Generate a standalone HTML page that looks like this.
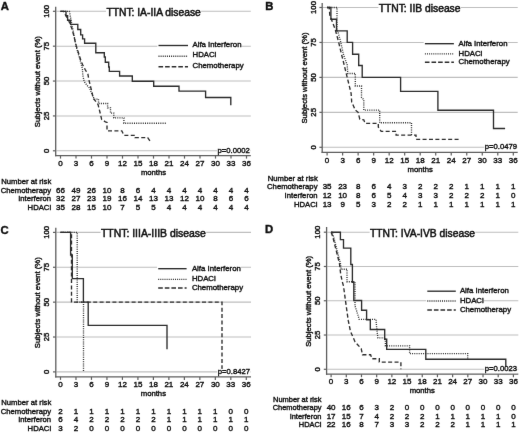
<!DOCTYPE html>
<html><head><meta charset="utf-8"><style>
html,body{margin:0;padding:0;background:#fff;}
svg{display:block;}
text{font-family:"Liberation Sans", sans-serif;fill:#111;stroke:#111;stroke-width:0.4px;}
svg{filter:grayscale(1);}
</style></head><body>
<svg width="520" height="433" viewBox="0 0 520 433">
<defs><filter id="bl" color-interpolation-filters="sRGB" x="0" y="0" width="100%" height="100%" filterUnits="userSpaceOnUse"><feConvolveMatrix order="3" kernelMatrix="0.00276 0.04704 0.00276 0.04704 0.80077 0.04704 0.00276 0.04704 0.00276" edgeMode="duplicate" preserveAlpha="true"/></filter></defs>
<g filter="url(#bl)">
<rect width="520" height="433" fill="#fff"/>
<line x1="56.4" y1="150.8" x2="250.8" y2="150.8" stroke="#bebebe" stroke-width="1.1"/>
<line x1="56.4" y1="115.93" x2="250.8" y2="115.93" stroke="#bebebe" stroke-width="1.1"/>
<line x1="56.4" y1="81.05" x2="250.8" y2="81.05" stroke="#bebebe" stroke-width="1.1"/>
<line x1="56.4" y1="46.18" x2="250.8" y2="46.18" stroke="#bebebe" stroke-width="1.1"/>
<line x1="56.4" y1="11.3" x2="250.8" y2="11.3" stroke="#bebebe" stroke-width="1.1"/>
<path d="M60.5,11.3 L66,11.3 L66,15.6 L67.6,15.6 L67.6,20.2 L70.6,20.2 L70.6,24.4 L77.8,24.4 L77.8,29.5 L80.7,29.5 L80.7,34.8 L82.6,34.8 L82.6,38.8 L84.6,38.8 L84.6,43.2 L95.8,43.2 L95.8,52.7 L104.3,52.7 L104.3,57 L105.3,57 L105.3,62.2 L108.7,62.2 L108.7,67 L109.3,67 L109.3,71.3 L119.6,71.3 L119.6,76 L132.3,76 L132.3,81.2 L153.7,81.2 L153.7,86.2 L179,86.2 L179,91.1 L205.6,91.1 L205.6,97.5 L230.8,97.5 L230.8,105.2" fill="none" stroke="#2c2c2c" stroke-width="1.35"/>
<path d="M60.5,11.3 L69.4,11.3 L71.8,23.9 L76,46 L80.4,61 L82.4,68.7 L82.8,75.2 L84.2,81.6 L87,85.3 L89.5,88 L92,94 L94.4,99.1 L98.5,99.1 L98.5,103.5 L107.6,103.5 L107.6,107.8 L110.5,107.8 L110.5,113.1 L113.8,113.1 L113.8,117.9 L123.9,117.9 L123.9,123.2 L166.5,123.2" fill="none" stroke="#2c2c2c" stroke-width="1.35" stroke-dasharray="1 1.2"/>
<path d="M60.5,11.3 L63.5,11.3 L66,16 L68.5,20 L72.4,30 L76.3,46 L79.2,55 L81,61 L82.8,65 L85.2,69.6 L87.9,74.2 L88.9,79.8 L90.2,85.3 L92.1,92.7 L93,98.2 L96.2,101.9 L98.1,104.7 L100.4,114 L101.7,119.6 L105.4,121.8 L107,122.5 L107,130.8 L121.8,130.8 L123.9,135.3 L135,135.3 L135,137.6 L147.7,137.6 L149.9,140.8" fill="none" stroke="#2c2c2c" stroke-width="1.35" stroke-dasharray="4.0 2.4"/>
<line x1="55.7" y1="6.8" x2="55.7" y2="156.2" stroke="#5e5e5e" stroke-width="1.3"/>
<line x1="55.1" y1="155.6" x2="250.8" y2="155.6" stroke="#5e5e5e" stroke-width="1.3"/>
<line x1="52.9" y1="150.8" x2="55.7" y2="150.8" stroke="#5e5e5e" stroke-width="1.2"/>
<text x="49.4" y="150.8" transform="rotate(-90 49.4 150.8)" text-anchor="middle" font-size="7.7">0</text>
<line x1="52.9" y1="115.93" x2="55.7" y2="115.93" stroke="#5e5e5e" stroke-width="1.2"/>
<text x="49.4" y="115.93" transform="rotate(-90 49.4 115.93)" text-anchor="middle" font-size="7.7">25</text>
<line x1="52.9" y1="81.05" x2="55.7" y2="81.05" stroke="#5e5e5e" stroke-width="1.2"/>
<text x="49.4" y="81.05" transform="rotate(-90 49.4 81.05)" text-anchor="middle" font-size="7.7">50</text>
<line x1="52.9" y1="46.18" x2="55.7" y2="46.18" stroke="#5e5e5e" stroke-width="1.2"/>
<text x="49.4" y="46.18" transform="rotate(-90 49.4 46.18)" text-anchor="middle" font-size="7.7">75</text>
<line x1="52.9" y1="11.3" x2="55.7" y2="11.3" stroke="#5e5e5e" stroke-width="1.2"/>
<text x="49.4" y="11.3" transform="rotate(-90 49.4 11.3)" text-anchor="middle" font-size="7.7">100</text>
<line x1="60.5" y1="155.6" x2="60.5" y2="158.6" stroke="#5e5e5e" stroke-width="1.2"/>
<text x="60.5" y="166.2" text-anchor="middle" font-size="8.0">0</text>
<line x1="76" y1="155.6" x2="76" y2="158.6" stroke="#5e5e5e" stroke-width="1.2"/>
<text x="76" y="166.2" text-anchor="middle" font-size="8.0">3</text>
<line x1="91.5" y1="155.6" x2="91.5" y2="158.6" stroke="#5e5e5e" stroke-width="1.2"/>
<text x="91.5" y="166.2" text-anchor="middle" font-size="8.0">6</text>
<line x1="107" y1="155.6" x2="107" y2="158.6" stroke="#5e5e5e" stroke-width="1.2"/>
<text x="107" y="166.2" text-anchor="middle" font-size="8.0">9</text>
<line x1="122.5" y1="155.6" x2="122.5" y2="158.6" stroke="#5e5e5e" stroke-width="1.2"/>
<text x="122.5" y="166.2" text-anchor="middle" font-size="8.0">12</text>
<line x1="138" y1="155.6" x2="138" y2="158.6" stroke="#5e5e5e" stroke-width="1.2"/>
<text x="138" y="166.2" text-anchor="middle" font-size="8.0">15</text>
<line x1="153.5" y1="155.6" x2="153.5" y2="158.6" stroke="#5e5e5e" stroke-width="1.2"/>
<text x="153.5" y="166.2" text-anchor="middle" font-size="8.0">18</text>
<line x1="169" y1="155.6" x2="169" y2="158.6" stroke="#5e5e5e" stroke-width="1.2"/>
<text x="169" y="166.2" text-anchor="middle" font-size="8.0">21</text>
<line x1="184.5" y1="155.6" x2="184.5" y2="158.6" stroke="#5e5e5e" stroke-width="1.2"/>
<text x="184.5" y="166.2" text-anchor="middle" font-size="8.0">24</text>
<line x1="200" y1="155.6" x2="200" y2="158.6" stroke="#5e5e5e" stroke-width="1.2"/>
<text x="200" y="166.2" text-anchor="middle" font-size="8.0">27</text>
<line x1="215.5" y1="155.6" x2="215.5" y2="158.6" stroke="#5e5e5e" stroke-width="1.2"/>
<text x="215.5" y="166.2" text-anchor="middle" font-size="8.0">30</text>
<line x1="231" y1="155.6" x2="231" y2="158.6" stroke="#5e5e5e" stroke-width="1.2"/>
<text x="231" y="166.2" text-anchor="middle" font-size="8.0">33</text>
<line x1="246.5" y1="155.6" x2="246.5" y2="158.6" stroke="#5e5e5e" stroke-width="1.2"/>
<text x="246.5" y="166.2" text-anchor="middle" font-size="8.0">36</text>
<text x="40.1" y="81.65" transform="rotate(-90 40.1 81.65)" text-anchor="middle" font-size="7.7">Subjects without event (%)</text>
<text x="153.5" y="175.2" text-anchor="middle" font-size="7.7">months</text>
<rect x="106.08" y="7.4" width="95.05" height="10" fill="#fff"/>
<text x="153.6" y="15.9" text-anchor="middle" font-size="10.3" style="stroke-width:0.5px">TTNT: IA-IIA disease</text>
<rect x="157.3" y="40.5" width="84.19" height="8.4" fill="#fff"/>
<line x1="158.5" y1="45.5" x2="188" y2="45.5" stroke="#2c2c2c" stroke-width="1.35"/>
<text x="192.5" y="46.7" font-size="7.8">Alfa Interferon</text>
<rect x="157.3" y="51.1" width="59.03" height="8.4" fill="#fff"/>
<line x1="158.5" y1="56.2" x2="188" y2="56.2" stroke="#2c2c2c" stroke-width="1.35" stroke-dasharray="1 1.1"/>
<text x="192.5" y="57.3" font-size="7.8">HDACi</text>
<rect x="157.3" y="62" width="86.36" height="8.4" fill="#fff"/>
<line x1="158.5" y1="66.7" x2="188" y2="66.7" stroke="#2c2c2c" stroke-width="1.35" stroke-dasharray="4.6 2.0"/>
<text x="192.5" y="68.2" font-size="7.8">Chemotherapy</text>
<rect x="216.97" y="147.8" width="33.33" height="6.6" fill="#fff"/>
<text x="249.8" y="152.6" text-anchor="end" font-size="7.7">p=0.0002</text>
<text x="0.7" y="9.6" font-size="11.3" font-weight="bold">A</text>
<text x="1.25" y="184" font-size="7.7">Number at risk</text>
<text x="51.1" y="192.6" text-anchor="end" font-size="7.7">Chemotherapy</text>
<text x="60.5" y="192.6" text-anchor="middle" font-size="8.0">66</text>
<text x="76" y="192.6" text-anchor="middle" font-size="8.0">49</text>
<text x="91.5" y="192.6" text-anchor="middle" font-size="8.0">26</text>
<text x="107" y="192.6" text-anchor="middle" font-size="8.0">10</text>
<text x="122.5" y="192.6" text-anchor="middle" font-size="8.0">8</text>
<text x="138" y="192.6" text-anchor="middle" font-size="8.0">6</text>
<text x="153.5" y="192.6" text-anchor="middle" font-size="8.0">4</text>
<text x="169" y="192.6" text-anchor="middle" font-size="8.0">4</text>
<text x="184.5" y="192.6" text-anchor="middle" font-size="8.0">4</text>
<text x="200" y="192.6" text-anchor="middle" font-size="8.0">4</text>
<text x="215.5" y="192.6" text-anchor="middle" font-size="8.0">4</text>
<text x="231" y="192.6" text-anchor="middle" font-size="8.0">4</text>
<text x="246.5" y="192.6" text-anchor="middle" font-size="8.0">4</text>
<text x="51.1" y="201.3" text-anchor="end" font-size="7.7">Interferon</text>
<text x="60.5" y="201.3" text-anchor="middle" font-size="8.0">32</text>
<text x="76" y="201.3" text-anchor="middle" font-size="8.0">27</text>
<text x="91.5" y="201.3" text-anchor="middle" font-size="8.0">23</text>
<text x="107" y="201.3" text-anchor="middle" font-size="8.0">19</text>
<text x="122.5" y="201.3" text-anchor="middle" font-size="8.0">16</text>
<text x="138" y="201.3" text-anchor="middle" font-size="8.0">14</text>
<text x="153.5" y="201.3" text-anchor="middle" font-size="8.0">13</text>
<text x="169" y="201.3" text-anchor="middle" font-size="8.0">13</text>
<text x="184.5" y="201.3" text-anchor="middle" font-size="8.0">12</text>
<text x="200" y="201.3" text-anchor="middle" font-size="8.0">10</text>
<text x="215.5" y="201.3" text-anchor="middle" font-size="8.0">8</text>
<text x="231" y="201.3" text-anchor="middle" font-size="8.0">6</text>
<text x="246.5" y="201.3" text-anchor="middle" font-size="8.0">6</text>
<text x="51.1" y="210.1" text-anchor="end" font-size="7.7">HDACi</text>
<text x="60.5" y="210.1" text-anchor="middle" font-size="8.0">35</text>
<text x="76" y="210.1" text-anchor="middle" font-size="8.0">28</text>
<text x="91.5" y="210.1" text-anchor="middle" font-size="8.0">15</text>
<text x="107" y="210.1" text-anchor="middle" font-size="8.0">10</text>
<text x="122.5" y="210.1" text-anchor="middle" font-size="8.0">7</text>
<text x="138" y="210.1" text-anchor="middle" font-size="8.0">5</text>
<text x="153.5" y="210.1" text-anchor="middle" font-size="8.0">5</text>
<text x="169" y="210.1" text-anchor="middle" font-size="8.0">4</text>
<text x="184.5" y="210.1" text-anchor="middle" font-size="8.0">4</text>
<text x="200" y="210.1" text-anchor="middle" font-size="8.0">4</text>
<text x="215.5" y="210.1" text-anchor="middle" font-size="8.0">4</text>
<text x="231" y="210.1" text-anchor="middle" font-size="8.0">4</text>
<text x="246.5" y="210.1" text-anchor="middle" font-size="8.0">4</text>
<line x1="322.9" y1="147.3" x2="517.7" y2="147.3" stroke="#bebebe" stroke-width="1.1"/>
<line x1="322.9" y1="112.35" x2="517.7" y2="112.35" stroke="#bebebe" stroke-width="1.1"/>
<line x1="322.9" y1="77.4" x2="517.7" y2="77.4" stroke="#bebebe" stroke-width="1.1"/>
<line x1="322.9" y1="42.45" x2="517.7" y2="42.45" stroke="#bebebe" stroke-width="1.1"/>
<line x1="322.9" y1="7.5" x2="517.7" y2="7.5" stroke="#bebebe" stroke-width="1.1"/>
<path d="M327.1,7.5 L330.9,7.5 L330.9,19.2 L336.5,19.2 L336.5,30.8 L347.2,30.8 L347.2,42.4 L352.6,42.4 L352.6,54.2 L358.7,54.2 L358.7,65.5 L362.2,65.5 L362.2,77.4 L400.6,77.4 L400.6,91.3 L437.9,91.3 L437.9,110.2 L493.5,110.2 L493.5,128.5 L505.1,128.5" fill="none" stroke="#2c2c2c" stroke-width="1.35"/>
<path d="M327.1,7.5 L337,7.5 L337,30 L338.2,33 L340.2,40 L343.6,55 L346.1,62 L347.2,65 L347.8,73.5 L355.3,73.5 L355.3,86 L361.5,86 L361.5,97.4 L363.8,99.6 L363.8,110.1 L379.7,110.1 L379.7,122.7 L411.5,122.7 L411.5,135" fill="none" stroke="#2c2c2c" stroke-width="1.35" stroke-dasharray="1 1.2"/>
<path d="M327.1,7.5 L329.2,7.5 L329.8,15 L335.2,29.3 L338.7,42.3 L341.3,53.5 L343.9,63.9 L347,76.6 L351.1,93.3 L351.7,101.9 L355.2,110 L358.1,112.3 L359.8,119.2 L363.8,119.8 L365,123.3 L378.3,123.3 L378.3,127 L381.2,131.4 L396.1,131.4 L396.1,135.1 L416,135.1 L416,139.3 L459,139.3 L459,141" fill="none" stroke="#2c2c2c" stroke-width="1.35" stroke-dasharray="4.0 2.4"/>
<line x1="322.2" y1="3.1" x2="322.2" y2="153" stroke="#5e5e5e" stroke-width="1.3"/>
<line x1="321.6" y1="152.4" x2="517.7" y2="152.4" stroke="#5e5e5e" stroke-width="1.3"/>
<line x1="319.4" y1="147.3" x2="322.2" y2="147.3" stroke="#5e5e5e" stroke-width="1.2"/>
<text x="315.8" y="147.3" transform="rotate(-90 315.8 147.3)" text-anchor="middle" font-size="7.7">0</text>
<line x1="319.4" y1="112.35" x2="322.2" y2="112.35" stroke="#5e5e5e" stroke-width="1.2"/>
<text x="315.8" y="112.35" transform="rotate(-90 315.8 112.35)" text-anchor="middle" font-size="7.7">25</text>
<line x1="319.4" y1="77.4" x2="322.2" y2="77.4" stroke="#5e5e5e" stroke-width="1.2"/>
<text x="315.8" y="77.4" transform="rotate(-90 315.8 77.4)" text-anchor="middle" font-size="7.7">50</text>
<line x1="319.4" y1="42.45" x2="322.2" y2="42.45" stroke="#5e5e5e" stroke-width="1.2"/>
<text x="315.8" y="42.45" transform="rotate(-90 315.8 42.45)" text-anchor="middle" font-size="7.7">75</text>
<line x1="319.4" y1="7.5" x2="322.2" y2="7.5" stroke="#5e5e5e" stroke-width="1.2"/>
<text x="315.8" y="7.5" transform="rotate(-90 315.8 7.5)" text-anchor="middle" font-size="7.7">100</text>
<line x1="327.1" y1="152.4" x2="327.1" y2="155.4" stroke="#5e5e5e" stroke-width="1.2"/>
<text x="327.1" y="163.2" text-anchor="middle" font-size="8.0">0</text>
<line x1="342.62" y1="152.4" x2="342.62" y2="155.4" stroke="#5e5e5e" stroke-width="1.2"/>
<text x="342.62" y="163.2" text-anchor="middle" font-size="8.0">3</text>
<line x1="358.13" y1="152.4" x2="358.13" y2="155.4" stroke="#5e5e5e" stroke-width="1.2"/>
<text x="358.13" y="163.2" text-anchor="middle" font-size="8.0">6</text>
<line x1="373.65" y1="152.4" x2="373.65" y2="155.4" stroke="#5e5e5e" stroke-width="1.2"/>
<text x="373.65" y="163.2" text-anchor="middle" font-size="8.0">9</text>
<line x1="389.17" y1="152.4" x2="389.17" y2="155.4" stroke="#5e5e5e" stroke-width="1.2"/>
<text x="389.17" y="163.2" text-anchor="middle" font-size="8.0">12</text>
<line x1="404.68" y1="152.4" x2="404.68" y2="155.4" stroke="#5e5e5e" stroke-width="1.2"/>
<text x="404.68" y="163.2" text-anchor="middle" font-size="8.0">15</text>
<line x1="420.2" y1="152.4" x2="420.2" y2="155.4" stroke="#5e5e5e" stroke-width="1.2"/>
<text x="420.2" y="163.2" text-anchor="middle" font-size="8.0">18</text>
<line x1="435.72" y1="152.4" x2="435.72" y2="155.4" stroke="#5e5e5e" stroke-width="1.2"/>
<text x="435.72" y="163.2" text-anchor="middle" font-size="8.0">21</text>
<line x1="451.23" y1="152.4" x2="451.23" y2="155.4" stroke="#5e5e5e" stroke-width="1.2"/>
<text x="451.23" y="163.2" text-anchor="middle" font-size="8.0">24</text>
<line x1="466.75" y1="152.4" x2="466.75" y2="155.4" stroke="#5e5e5e" stroke-width="1.2"/>
<text x="466.75" y="163.2" text-anchor="middle" font-size="8.0">27</text>
<line x1="482.27" y1="152.4" x2="482.27" y2="155.4" stroke="#5e5e5e" stroke-width="1.2"/>
<text x="482.27" y="163.2" text-anchor="middle" font-size="8.0">30</text>
<line x1="497.78" y1="152.4" x2="497.78" y2="155.4" stroke="#5e5e5e" stroke-width="1.2"/>
<text x="497.78" y="163.2" text-anchor="middle" font-size="8.0">33</text>
<line x1="513.3" y1="152.4" x2="513.3" y2="155.4" stroke="#5e5e5e" stroke-width="1.2"/>
<text x="513.3" y="163.2" text-anchor="middle" font-size="8.0">36</text>
<text x="306.7" y="78" transform="rotate(-90 306.7 78)" text-anchor="middle" font-size="7.7">Subjects without event (%)</text>
<text x="420.2" y="171.5" text-anchor="middle" font-size="7.7">months</text>
<rect x="378.37" y="3.8" width="82.45" height="10" fill="#fff"/>
<text x="419.6" y="12.3" text-anchor="middle" font-size="10.3" style="stroke-width:0.5px">TTNT: IIB disease</text>
<rect x="423.7" y="39.8" width="83.79" height="8.4" fill="#fff"/>
<line x1="424.9" y1="43.7" x2="453.9" y2="43.7" stroke="#2c2c2c" stroke-width="1.35"/>
<text x="458.5" y="46" font-size="7.8">Alfa Interferon</text>
<rect x="423.7" y="49.4" width="58.63" height="8.4" fill="#fff"/>
<line x1="424.9" y1="53.8" x2="453.9" y2="53.8" stroke="#2c2c2c" stroke-width="1.35" stroke-dasharray="1 1.1"/>
<text x="458.5" y="55.6" font-size="7.8">HDACi</text>
<rect x="423.7" y="58.1" width="85.96" height="8.4" fill="#fff"/>
<line x1="424.9" y1="62.2" x2="453.9" y2="62.2" stroke="#2c2c2c" stroke-width="1.35" stroke-dasharray="4.6 2.0"/>
<text x="458.5" y="64.3" font-size="7.8">Chemotherapy</text>
<rect x="484.27" y="144.6" width="33.33" height="6.6" fill="#fff"/>
<text x="517.1" y="149.4" text-anchor="end" font-size="7.7">p=0.0479</text>
<text x="265.2" y="9.6" font-size="11.3" font-weight="bold">B</text>
<text x="267.8" y="180.6" font-size="7.7">Number at risk</text>
<text x="317.5" y="189.3" text-anchor="end" font-size="7.7">Chemotherapy</text>
<text x="327.1" y="189.3" text-anchor="middle" font-size="8.0">35</text>
<text x="342.62" y="189.3" text-anchor="middle" font-size="8.0">23</text>
<text x="358.13" y="189.3" text-anchor="middle" font-size="8.0">8</text>
<text x="373.65" y="189.3" text-anchor="middle" font-size="8.0">6</text>
<text x="389.17" y="189.3" text-anchor="middle" font-size="8.0">4</text>
<text x="404.68" y="189.3" text-anchor="middle" font-size="8.0">3</text>
<text x="420.2" y="189.3" text-anchor="middle" font-size="8.0">2</text>
<text x="435.72" y="189.3" text-anchor="middle" font-size="8.0">2</text>
<text x="451.23" y="189.3" text-anchor="middle" font-size="8.0">2</text>
<text x="466.75" y="189.3" text-anchor="middle" font-size="8.0">1</text>
<text x="482.27" y="189.3" text-anchor="middle" font-size="8.0">1</text>
<text x="497.78" y="189.3" text-anchor="middle" font-size="8.0">1</text>
<text x="513.3" y="189.3" text-anchor="middle" font-size="8.0">1</text>
<text x="317.5" y="198" text-anchor="end" font-size="7.7">Interferon</text>
<text x="327.1" y="198" text-anchor="middle" font-size="8.0">12</text>
<text x="342.62" y="198" text-anchor="middle" font-size="8.0">10</text>
<text x="358.13" y="198" text-anchor="middle" font-size="8.0">8</text>
<text x="373.65" y="198" text-anchor="middle" font-size="8.0">6</text>
<text x="389.17" y="198" text-anchor="middle" font-size="8.0">5</text>
<text x="404.68" y="198" text-anchor="middle" font-size="8.0">4</text>
<text x="420.2" y="198" text-anchor="middle" font-size="8.0">3</text>
<text x="435.72" y="198" text-anchor="middle" font-size="8.0">3</text>
<text x="451.23" y="198" text-anchor="middle" font-size="8.0">2</text>
<text x="466.75" y="198" text-anchor="middle" font-size="8.0">2</text>
<text x="482.27" y="198" text-anchor="middle" font-size="8.0">2</text>
<text x="497.78" y="198" text-anchor="middle" font-size="8.0">1</text>
<text x="513.3" y="198" text-anchor="middle" font-size="8.0">0</text>
<text x="317.5" y="206.7" text-anchor="end" font-size="7.7">HDACi</text>
<text x="327.1" y="206.7" text-anchor="middle" font-size="8.0">13</text>
<text x="342.62" y="206.7" text-anchor="middle" font-size="8.0">9</text>
<text x="358.13" y="206.7" text-anchor="middle" font-size="8.0">5</text>
<text x="373.65" y="206.7" text-anchor="middle" font-size="8.0">3</text>
<text x="389.17" y="206.7" text-anchor="middle" font-size="8.0">2</text>
<text x="404.68" y="206.7" text-anchor="middle" font-size="8.0">2</text>
<text x="420.2" y="206.7" text-anchor="middle" font-size="8.0">1</text>
<text x="435.72" y="206.7" text-anchor="middle" font-size="8.0">1</text>
<text x="451.23" y="206.7" text-anchor="middle" font-size="8.0">1</text>
<text x="466.75" y="206.7" text-anchor="middle" font-size="8.0">1</text>
<text x="482.27" y="206.7" text-anchor="middle" font-size="8.0">1</text>
<text x="497.78" y="206.7" text-anchor="middle" font-size="8.0">1</text>
<text x="513.3" y="206.7" text-anchor="middle" font-size="8.0">1</text>
<line x1="56.5" y1="371.9" x2="251" y2="371.9" stroke="#bebebe" stroke-width="1.1"/>
<line x1="56.5" y1="337.02" x2="251" y2="337.02" stroke="#bebebe" stroke-width="1.1"/>
<line x1="56.5" y1="302.15" x2="251" y2="302.15" stroke="#bebebe" stroke-width="1.1"/>
<line x1="56.5" y1="267.27" x2="251" y2="267.27" stroke="#bebebe" stroke-width="1.1"/>
<line x1="56.5" y1="232.4" x2="251" y2="232.4" stroke="#bebebe" stroke-width="1.1"/>
<path d="M60.5,232.4 L70.6,232.4 L70.6,255 L72.3,255 L72.3,278.6 L83.4,278.6 L83.4,302.1 L88.2,302.1 L88.2,325.4 L167,325.4 L167,349.3" fill="none" stroke="#2c2c2c" stroke-width="1.35"/>
<path d="M60.5,232.4 L77.2,232.4 L77.2,302.1 L83.5,302.1 L83.5,371.9" fill="none" stroke="#2c2c2c" stroke-width="1.35" stroke-dasharray="1 1.2"/>
<path d="M60.5,232.4 L71.5,232.4 L71.5,302.1 L222,302.1 L222,371.9" fill="none" stroke="#2c2c2c" stroke-width="1.35" stroke-dasharray="4.0 2.4"/>
<line x1="55.8" y1="227.8" x2="55.8" y2="377.5" stroke="#5e5e5e" stroke-width="1.3"/>
<line x1="55.2" y1="376.9" x2="251" y2="376.9" stroke="#5e5e5e" stroke-width="1.3"/>
<line x1="53" y1="371.9" x2="55.8" y2="371.9" stroke="#5e5e5e" stroke-width="1.2"/>
<text x="49.4" y="371.9" transform="rotate(-90 49.4 371.9)" text-anchor="middle" font-size="7.7">0</text>
<line x1="53" y1="337.02" x2="55.8" y2="337.02" stroke="#5e5e5e" stroke-width="1.2"/>
<text x="49.4" y="337.02" transform="rotate(-90 49.4 337.02)" text-anchor="middle" font-size="7.7">25</text>
<line x1="53" y1="302.15" x2="55.8" y2="302.15" stroke="#5e5e5e" stroke-width="1.2"/>
<text x="49.4" y="302.15" transform="rotate(-90 49.4 302.15)" text-anchor="middle" font-size="7.7">50</text>
<line x1="53" y1="267.27" x2="55.8" y2="267.27" stroke="#5e5e5e" stroke-width="1.2"/>
<text x="49.4" y="267.27" transform="rotate(-90 49.4 267.27)" text-anchor="middle" font-size="7.7">75</text>
<line x1="53" y1="232.4" x2="55.8" y2="232.4" stroke="#5e5e5e" stroke-width="1.2"/>
<text x="49.4" y="232.4" transform="rotate(-90 49.4 232.4)" text-anchor="middle" font-size="7.7">100</text>
<line x1="60.5" y1="376.9" x2="60.5" y2="379.9" stroke="#5e5e5e" stroke-width="1.2"/>
<text x="60.5" y="387.2" text-anchor="middle" font-size="8.0">0</text>
<line x1="75.98" y1="376.9" x2="75.98" y2="379.9" stroke="#5e5e5e" stroke-width="1.2"/>
<text x="75.98" y="387.2" text-anchor="middle" font-size="8.0">3</text>
<line x1="91.47" y1="376.9" x2="91.47" y2="379.9" stroke="#5e5e5e" stroke-width="1.2"/>
<text x="91.47" y="387.2" text-anchor="middle" font-size="8.0">6</text>
<line x1="106.95" y1="376.9" x2="106.95" y2="379.9" stroke="#5e5e5e" stroke-width="1.2"/>
<text x="106.95" y="387.2" text-anchor="middle" font-size="8.0">9</text>
<line x1="122.43" y1="376.9" x2="122.43" y2="379.9" stroke="#5e5e5e" stroke-width="1.2"/>
<text x="122.43" y="387.2" text-anchor="middle" font-size="8.0">12</text>
<line x1="137.92" y1="376.9" x2="137.92" y2="379.9" stroke="#5e5e5e" stroke-width="1.2"/>
<text x="137.92" y="387.2" text-anchor="middle" font-size="8.0">15</text>
<line x1="153.4" y1="376.9" x2="153.4" y2="379.9" stroke="#5e5e5e" stroke-width="1.2"/>
<text x="153.4" y="387.2" text-anchor="middle" font-size="8.0">18</text>
<line x1="168.88" y1="376.9" x2="168.88" y2="379.9" stroke="#5e5e5e" stroke-width="1.2"/>
<text x="168.88" y="387.2" text-anchor="middle" font-size="8.0">21</text>
<line x1="184.37" y1="376.9" x2="184.37" y2="379.9" stroke="#5e5e5e" stroke-width="1.2"/>
<text x="184.37" y="387.2" text-anchor="middle" font-size="8.0">24</text>
<line x1="199.85" y1="376.9" x2="199.85" y2="379.9" stroke="#5e5e5e" stroke-width="1.2"/>
<text x="199.85" y="387.2" text-anchor="middle" font-size="8.0">27</text>
<line x1="215.33" y1="376.9" x2="215.33" y2="379.9" stroke="#5e5e5e" stroke-width="1.2"/>
<text x="215.33" y="387.2" text-anchor="middle" font-size="8.0">30</text>
<line x1="230.82" y1="376.9" x2="230.82" y2="379.9" stroke="#5e5e5e" stroke-width="1.2"/>
<text x="230.82" y="387.2" text-anchor="middle" font-size="8.0">33</text>
<line x1="246.3" y1="376.9" x2="246.3" y2="379.9" stroke="#5e5e5e" stroke-width="1.2"/>
<text x="246.3" y="387.2" text-anchor="middle" font-size="8.0">36</text>
<text x="40.4" y="302.75" transform="rotate(-90 40.4 302.75)" text-anchor="middle" font-size="7.7">Subjects without event (%)</text>
<text x="153.4" y="396" text-anchor="middle" font-size="7.7">months</text>
<rect x="100.55" y="228.9" width="105.71" height="10" fill="#fff"/>
<text x="153.4" y="237.4" text-anchor="middle" font-size="10.45" style="stroke-width:0.5px">TTNT: IIIA-IIIB disease</text>
<rect x="157" y="264.4" width="83.89" height="8.4" fill="#fff"/>
<line x1="158.2" y1="268.7" x2="186.6" y2="268.7" stroke="#2c2c2c" stroke-width="1.35"/>
<text x="191.9" y="270.6" font-size="7.8">Alfa Interferon</text>
<rect x="157" y="274.5" width="58.73" height="8.4" fill="#fff"/>
<line x1="158.2" y1="279.3" x2="186.6" y2="279.3" stroke="#2c2c2c" stroke-width="1.35" stroke-dasharray="1 1.1"/>
<text x="191.9" y="280.7" font-size="7.8">HDACi</text>
<rect x="157" y="284.1" width="86.06" height="8.4" fill="#fff"/>
<line x1="158.2" y1="288" x2="186.6" y2="288" stroke="#2c2c2c" stroke-width="1.35" stroke-dasharray="4.6 2.0"/>
<text x="191.9" y="290.3" font-size="7.8">Chemotherapy</text>
<rect x="217.17" y="368.9" width="33.33" height="6.6" fill="#fff"/>
<text x="250" y="373.7" text-anchor="end" font-size="7.7">p=0.8427</text>
<text x="0.6" y="234.3" font-size="11.3" font-weight="bold">C</text>
<text x="1.3" y="404.9" font-size="7.7">Number at risk</text>
<text x="51.1" y="413.6" text-anchor="end" font-size="7.7">Chemotherapy</text>
<text x="60.5" y="413.6" text-anchor="middle" font-size="8.0">2</text>
<text x="75.98" y="413.6" text-anchor="middle" font-size="8.0">1</text>
<text x="91.47" y="413.6" text-anchor="middle" font-size="8.0">1</text>
<text x="106.95" y="413.6" text-anchor="middle" font-size="8.0">1</text>
<text x="122.43" y="413.6" text-anchor="middle" font-size="8.0">1</text>
<text x="137.92" y="413.6" text-anchor="middle" font-size="8.0">1</text>
<text x="153.4" y="413.6" text-anchor="middle" font-size="8.0">1</text>
<text x="168.88" y="413.6" text-anchor="middle" font-size="8.0">1</text>
<text x="184.37" y="413.6" text-anchor="middle" font-size="8.0">1</text>
<text x="199.85" y="413.6" text-anchor="middle" font-size="8.0">1</text>
<text x="215.33" y="413.6" text-anchor="middle" font-size="8.0">1</text>
<text x="230.82" y="413.6" text-anchor="middle" font-size="8.0">0</text>
<text x="246.3" y="413.6" text-anchor="middle" font-size="8.0">0</text>
<text x="51.1" y="422.3" text-anchor="end" font-size="7.7">Interferon</text>
<text x="60.5" y="422.3" text-anchor="middle" font-size="8.0">6</text>
<text x="75.98" y="422.3" text-anchor="middle" font-size="8.0">4</text>
<text x="91.47" y="422.3" text-anchor="middle" font-size="8.0">2</text>
<text x="106.95" y="422.3" text-anchor="middle" font-size="8.0">2</text>
<text x="122.43" y="422.3" text-anchor="middle" font-size="8.0">2</text>
<text x="137.92" y="422.3" text-anchor="middle" font-size="8.0">2</text>
<text x="153.4" y="422.3" text-anchor="middle" font-size="8.0">2</text>
<text x="168.88" y="422.3" text-anchor="middle" font-size="8.0">1</text>
<text x="184.37" y="422.3" text-anchor="middle" font-size="8.0">1</text>
<text x="199.85" y="422.3" text-anchor="middle" font-size="8.0">1</text>
<text x="215.33" y="422.3" text-anchor="middle" font-size="8.0">1</text>
<text x="230.82" y="422.3" text-anchor="middle" font-size="8.0">1</text>
<text x="246.3" y="422.3" text-anchor="middle" font-size="8.0">1</text>
<text x="51.1" y="431" text-anchor="end" font-size="7.7">HDACi</text>
<text x="60.5" y="431" text-anchor="middle" font-size="8.0">3</text>
<text x="75.98" y="431" text-anchor="middle" font-size="8.0">2</text>
<text x="91.47" y="431" text-anchor="middle" font-size="8.0">0</text>
<text x="106.95" y="431" text-anchor="middle" font-size="8.0">0</text>
<text x="122.43" y="431" text-anchor="middle" font-size="8.0">0</text>
<text x="137.92" y="431" text-anchor="middle" font-size="8.0">0</text>
<text x="153.4" y="431" text-anchor="middle" font-size="8.0">0</text>
<text x="168.88" y="431" text-anchor="middle" font-size="8.0">0</text>
<text x="184.37" y="431" text-anchor="middle" font-size="8.0">0</text>
<text x="199.85" y="431" text-anchor="middle" font-size="8.0">0</text>
<text x="215.33" y="431" text-anchor="middle" font-size="8.0">0</text>
<text x="230.82" y="431" text-anchor="middle" font-size="8.0">0</text>
<text x="246.3" y="431" text-anchor="middle" font-size="8.0">0</text>
<line x1="327.3" y1="369.3" x2="518.3" y2="369.3" stroke="#bebebe" stroke-width="1.1"/>
<line x1="327.3" y1="335.02" x2="518.3" y2="335.02" stroke="#bebebe" stroke-width="1.1"/>
<line x1="327.3" y1="300.75" x2="518.3" y2="300.75" stroke="#bebebe" stroke-width="1.1"/>
<line x1="327.3" y1="266.48" x2="518.3" y2="266.48" stroke="#bebebe" stroke-width="1.1"/>
<line x1="327.3" y1="232.2" x2="518.3" y2="232.2" stroke="#bebebe" stroke-width="1.1"/>
<path d="M331.1,232.2 L340.4,232.2 L340.4,239.6 L343.5,239.6 L343.5,248.1 L350.8,248.1 L350.8,264.5 L352.4,264.5 L352.4,282.2 L353.8,282.2 L353.8,300.5 L361.6,300.5 L361.6,310.2 L366.6,310.2 L366.6,319.7 L370.3,319.7 L370.3,329.5 L384.7,329.5 L384.7,339.2 L386.7,339.2 L386.7,349.4 L425.8,349.4 L425.8,359.2 L505.8,359.2 L505.8,369.3" fill="none" stroke="#2c2c2c" stroke-width="1.35"/>
<path d="M331.1,232.2 L332,232.2 L333.6,236.5 L335.8,245.5 L338.1,254.5 L340.5,263.8 L341,269.2 L347,269.2 L347,281.7 L355,281.7 L355,306 L357,312 L359.2,319.3 L376,319.3 L376.6,327.1 L377.9,337.9 L385.4,337.9 L385.4,345.8 L409.6,345.8 L409.6,353.6 L467.7,353.6 L467.7,359.5" fill="none" stroke="#2c2c2c" stroke-width="1.35" stroke-dasharray="1 1.2"/>
<path d="M331.1,232.2 L332.6,236.1 L334.9,245.3 L337.2,254.5 L339.5,263.8 L340.7,274.2 L342.3,281.8 L343.5,286 L345.4,300.1 L348.2,320.2 L350.4,331.2 L355.1,341.9 L361.2,348.6 L362.5,354.7 L370.6,354.7 L371.9,358.7 L379.3,358.7 L379.3,362.1 L400.9,362.1 L400.9,369.3" fill="none" stroke="#2c2c2c" stroke-width="1.35" stroke-dasharray="4.0 2.4"/>
<line x1="326.6" y1="227" x2="326.6" y2="374.8" stroke="#5e5e5e" stroke-width="1.3"/>
<line x1="326" y1="374.2" x2="518.3" y2="374.2" stroke="#5e5e5e" stroke-width="1.3"/>
<line x1="323.8" y1="369.3" x2="326.6" y2="369.3" stroke="#5e5e5e" stroke-width="1.2"/>
<text x="320.1" y="369.3" transform="rotate(-90 320.1 369.3)" text-anchor="middle" font-size="7.7">0</text>
<line x1="323.8" y1="335.02" x2="326.6" y2="335.02" stroke="#5e5e5e" stroke-width="1.2"/>
<text x="320.1" y="335.02" transform="rotate(-90 320.1 335.02)" text-anchor="middle" font-size="7.7">25</text>
<line x1="323.8" y1="300.75" x2="326.6" y2="300.75" stroke="#5e5e5e" stroke-width="1.2"/>
<text x="320.1" y="300.75" transform="rotate(-90 320.1 300.75)" text-anchor="middle" font-size="7.7">50</text>
<line x1="323.8" y1="266.48" x2="326.6" y2="266.48" stroke="#5e5e5e" stroke-width="1.2"/>
<text x="320.1" y="266.48" transform="rotate(-90 320.1 266.48)" text-anchor="middle" font-size="7.7">75</text>
<line x1="323.8" y1="232.2" x2="326.6" y2="232.2" stroke="#5e5e5e" stroke-width="1.2"/>
<text x="320.1" y="232.2" transform="rotate(-90 320.1 232.2)" text-anchor="middle" font-size="7.7">100</text>
<line x1="331.1" y1="374.2" x2="331.1" y2="377.2" stroke="#5e5e5e" stroke-width="1.2"/>
<text x="331.1" y="384.1" text-anchor="middle" font-size="8.0">0</text>
<line x1="346.29" y1="374.2" x2="346.29" y2="377.2" stroke="#5e5e5e" stroke-width="1.2"/>
<text x="346.29" y="384.1" text-anchor="middle" font-size="8.0">3</text>
<line x1="361.48" y1="374.2" x2="361.48" y2="377.2" stroke="#5e5e5e" stroke-width="1.2"/>
<text x="361.48" y="384.1" text-anchor="middle" font-size="8.0">6</text>
<line x1="376.68" y1="374.2" x2="376.68" y2="377.2" stroke="#5e5e5e" stroke-width="1.2"/>
<text x="376.68" y="384.1" text-anchor="middle" font-size="8.0">9</text>
<line x1="391.87" y1="374.2" x2="391.87" y2="377.2" stroke="#5e5e5e" stroke-width="1.2"/>
<text x="391.87" y="384.1" text-anchor="middle" font-size="8.0">12</text>
<line x1="407.06" y1="374.2" x2="407.06" y2="377.2" stroke="#5e5e5e" stroke-width="1.2"/>
<text x="407.06" y="384.1" text-anchor="middle" font-size="8.0">15</text>
<line x1="422.25" y1="374.2" x2="422.25" y2="377.2" stroke="#5e5e5e" stroke-width="1.2"/>
<text x="422.25" y="384.1" text-anchor="middle" font-size="8.0">18</text>
<line x1="437.44" y1="374.2" x2="437.44" y2="377.2" stroke="#5e5e5e" stroke-width="1.2"/>
<text x="437.44" y="384.1" text-anchor="middle" font-size="8.0">21</text>
<line x1="452.63" y1="374.2" x2="452.63" y2="377.2" stroke="#5e5e5e" stroke-width="1.2"/>
<text x="452.63" y="384.1" text-anchor="middle" font-size="8.0">24</text>
<line x1="467.82" y1="374.2" x2="467.82" y2="377.2" stroke="#5e5e5e" stroke-width="1.2"/>
<text x="467.82" y="384.1" text-anchor="middle" font-size="8.0">27</text>
<line x1="483.02" y1="374.2" x2="483.02" y2="377.2" stroke="#5e5e5e" stroke-width="1.2"/>
<text x="483.02" y="384.1" text-anchor="middle" font-size="8.0">30</text>
<line x1="498.21" y1="374.2" x2="498.21" y2="377.2" stroke="#5e5e5e" stroke-width="1.2"/>
<text x="498.21" y="384.1" text-anchor="middle" font-size="8.0">33</text>
<line x1="513.4" y1="374.2" x2="513.4" y2="377.2" stroke="#5e5e5e" stroke-width="1.2"/>
<text x="513.4" y="384.1" text-anchor="middle" font-size="8.0">36</text>
<text x="311.2" y="301.35" transform="rotate(-90 311.2 301.35)" text-anchor="middle" font-size="7.7">Subjects without event (%)</text>
<text x="422.25" y="392.9" text-anchor="middle" font-size="7.7">months</text>
<rect x="369.64" y="228.7" width="105.73" height="10" fill="#fff"/>
<text x="422.5" y="237.2" text-anchor="middle" font-size="10.3" style="stroke-width:0.5px">TTNT: IVA-IVB disease</text>
<rect x="426.1" y="286.7" width="82.79" height="8.4" fill="#fff"/>
<line x1="427.3" y1="291.2" x2="455.8" y2="291.2" stroke="#2c2c2c" stroke-width="1.35"/>
<text x="459.9" y="292.9" font-size="7.8">Alfa Interferon</text>
<rect x="426.1" y="296.3" width="57.63" height="8.4" fill="#fff"/>
<line x1="427.3" y1="301" x2="455.8" y2="301" stroke="#2c2c2c" stroke-width="1.35" stroke-dasharray="1 1.1"/>
<text x="459.9" y="302.5" font-size="7.8">HDACi</text>
<rect x="426.1" y="305.8" width="84.96" height="8.4" fill="#fff"/>
<line x1="427.3" y1="310" x2="455.8" y2="310" stroke="#2c2c2c" stroke-width="1.35" stroke-dasharray="4.6 2.0"/>
<text x="459.9" y="312" font-size="7.8">Chemotherapy</text>
<rect x="484.27" y="366.6" width="33.33" height="6.6" fill="#fff"/>
<text x="517.1" y="371.4" text-anchor="end" font-size="7.7">p=0.0023</text>
<text x="264.9" y="233.4" font-size="11.3" font-weight="bold">D</text>
<text x="273.1" y="401.9" font-size="7.45">Number at risk</text>
<text x="321.5" y="410.4" text-anchor="end" font-size="7.45">Chemotherapy</text>
<text x="331.1" y="410.4" text-anchor="middle" font-size="8.0">40</text>
<text x="346.29" y="410.4" text-anchor="middle" font-size="8.0">16</text>
<text x="361.48" y="410.4" text-anchor="middle" font-size="8.0">6</text>
<text x="376.68" y="410.4" text-anchor="middle" font-size="8.0">3</text>
<text x="391.87" y="410.4" text-anchor="middle" font-size="8.0">2</text>
<text x="407.06" y="410.4" text-anchor="middle" font-size="8.0">0</text>
<text x="422.25" y="410.4" text-anchor="middle" font-size="8.0">0</text>
<text x="437.44" y="410.4" text-anchor="middle" font-size="8.0">0</text>
<text x="452.63" y="410.4" text-anchor="middle" font-size="8.0">0</text>
<text x="467.82" y="410.4" text-anchor="middle" font-size="8.0">0</text>
<text x="483.02" y="410.4" text-anchor="middle" font-size="8.0">0</text>
<text x="498.21" y="410.4" text-anchor="middle" font-size="8.0">0</text>
<text x="513.4" y="410.4" text-anchor="middle" font-size="8.0">0</text>
<text x="321.5" y="418.9" text-anchor="end" font-size="7.45">Interferon</text>
<text x="331.1" y="418.9" text-anchor="middle" font-size="8.0">17</text>
<text x="346.29" y="418.9" text-anchor="middle" font-size="8.0">15</text>
<text x="361.48" y="418.9" text-anchor="middle" font-size="8.0">7</text>
<text x="376.68" y="418.9" text-anchor="middle" font-size="8.0">4</text>
<text x="391.87" y="418.9" text-anchor="middle" font-size="8.0">2</text>
<text x="407.06" y="418.9" text-anchor="middle" font-size="8.0">2</text>
<text x="422.25" y="418.9" text-anchor="middle" font-size="8.0">2</text>
<text x="437.44" y="418.9" text-anchor="middle" font-size="8.0">1</text>
<text x="452.63" y="418.9" text-anchor="middle" font-size="8.0">1</text>
<text x="467.82" y="418.9" text-anchor="middle" font-size="8.0">1</text>
<text x="483.02" y="418.9" text-anchor="middle" font-size="8.0">1</text>
<text x="498.21" y="418.9" text-anchor="middle" font-size="8.0">1</text>
<text x="513.4" y="418.9" text-anchor="middle" font-size="8.0">0</text>
<text x="321.5" y="427.4" text-anchor="end" font-size="7.45">HDACi</text>
<text x="331.1" y="427.4" text-anchor="middle" font-size="8.0">22</text>
<text x="346.29" y="427.4" text-anchor="middle" font-size="8.0">16</text>
<text x="361.48" y="427.4" text-anchor="middle" font-size="8.0">8</text>
<text x="376.68" y="427.4" text-anchor="middle" font-size="8.0">7</text>
<text x="391.87" y="427.4" text-anchor="middle" font-size="8.0">3</text>
<text x="407.06" y="427.4" text-anchor="middle" font-size="8.0">3</text>
<text x="422.25" y="427.4" text-anchor="middle" font-size="8.0">2</text>
<text x="437.44" y="427.4" text-anchor="middle" font-size="8.0">2</text>
<text x="452.63" y="427.4" text-anchor="middle" font-size="8.0">2</text>
<text x="467.82" y="427.4" text-anchor="middle" font-size="8.0">1</text>
<text x="483.02" y="427.4" text-anchor="middle" font-size="8.0">1</text>
<text x="498.21" y="427.4" text-anchor="middle" font-size="8.0">1</text>
<text x="513.4" y="427.4" text-anchor="middle" font-size="8.0">1</text>
</g>
</svg>
</body></html>
